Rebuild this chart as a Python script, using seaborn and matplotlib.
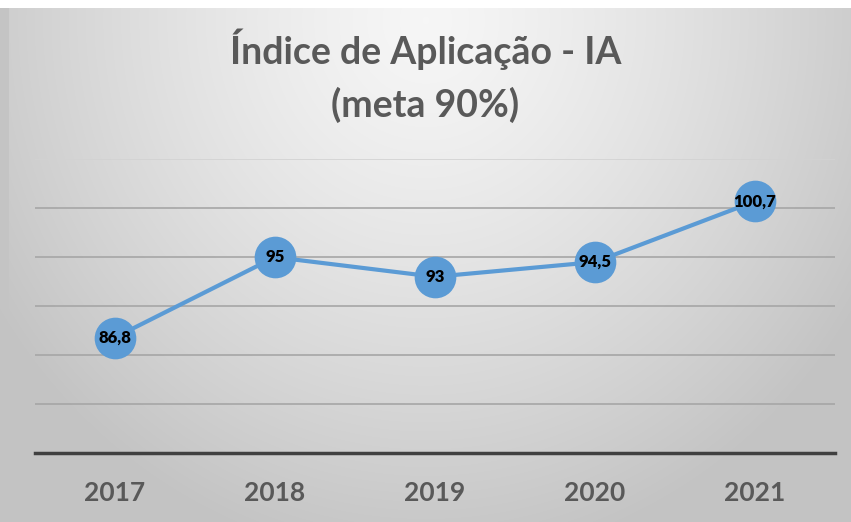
import numpy as np
import pandas as pd
import matplotlib.pyplot as plt
import seaborn as sns

# --- Data ---
years = ["2017", "2018", "2019", "2020", "2021"]
ia_values = [86.8, 95, 93, 94.5, 100.7]
value_labels = ["86,8", "95", "93", "94,5", "100,7"]

LINE_COLOR = "#5B9BD5"
TEXT_GRAY = "#595959"

sns.set_theme(style="white")
plt.rcParams["font.family"] = ["Lato", "DejaVu Sans"]

df = pd.DataFrame({"Ano": years, "IA": ia_values})

fig = plt.figure(figsize=(8.51, 5.22), dpi=100)

# background: soft radial gradient like the Excel chart area
bg = fig.add_axes([0, 0, 1, 1], zorder=-10)
h, w = 522, 851
yy, xx = np.mgrid[0:h, 0:w]
dx = (xx - w * 0.5) / (w * 0.6)
dy = (yy - 20) / (h * 1.05)
r = np.clip(np.sqrt(dx ** 2 + dy ** 2), 0, 1)
shade = 0.965 - 0.2 * r ** 1.3
img = np.dstack([shade, shade, shade])
img[:8, :, :] = 1.0  # white strip at the very top
img[8:, :9, :] = np.minimum(img[8:, :9, :], 0.77)
bg.imshow(img, aspect="auto", extent=[0, 1, 0, 1], interpolation="bilinear")
bg.set_axis_off()

ax = fig.add_axes([0.041, 0.132, 0.94, 0.563])
ax.set_facecolor("none")

sns.lineplot(
    data=df,
    x="Ano",
    y="IA",
    color=LINE_COLOR,
    linewidth=3,
    marker="o",
    markersize=30,
    markeredgewidth=0,
    ax=ax,
    zorder=3,
)

for i, (val, lab) in enumerate(zip(ia_values, value_labels)):
    ax.text(i, val, lab, ha="center", va="center", fontsize=12,
            fontweight="heavy", color="black", zorder=4)

ax.set_ylim(75, 105)
ax.set_xlim(-0.5, 4.5)
ax.set_yticks([80, 85, 90, 95, 100])
ax.set_yticklabels([])
ax.tick_params(axis="y", length=0)
ax.grid(axis="y", color="#a6a6a6", linewidth=1.2)
ax.grid(axis="x", visible=False)
ax.axhline(105, color="#d2d2d2", linewidth=1.2, zorder=0)
ax.set_axisbelow(True)

for side in ["top", "right", "left"]:
    ax.spines[side].set_visible(False)
ax.spines["bottom"].set_color("#404040")
ax.spines["bottom"].set_linewidth(2.5)

ax.tick_params(axis="x", length=0, pad=20, labelsize=19, labelcolor=TEXT_GRAY)
for lbl in ax.get_xticklabels():
    lbl.set_fontweight("bold")

ax.set_xlabel("")
ax.set_ylabel("")

fig.text(0.5, 0.905, "Índice de Aplicação - IA", ha="center", va="center",
         fontsize=27, fontweight="bold", color=TEXT_GRAY)
fig.text(0.5, 0.800, "(meta 90%)", ha="center", va="center",
         fontsize=27, fontweight="bold", color=TEXT_GRAY)

plt.savefig("out.png", dpi=100)
plt.close(fig)
